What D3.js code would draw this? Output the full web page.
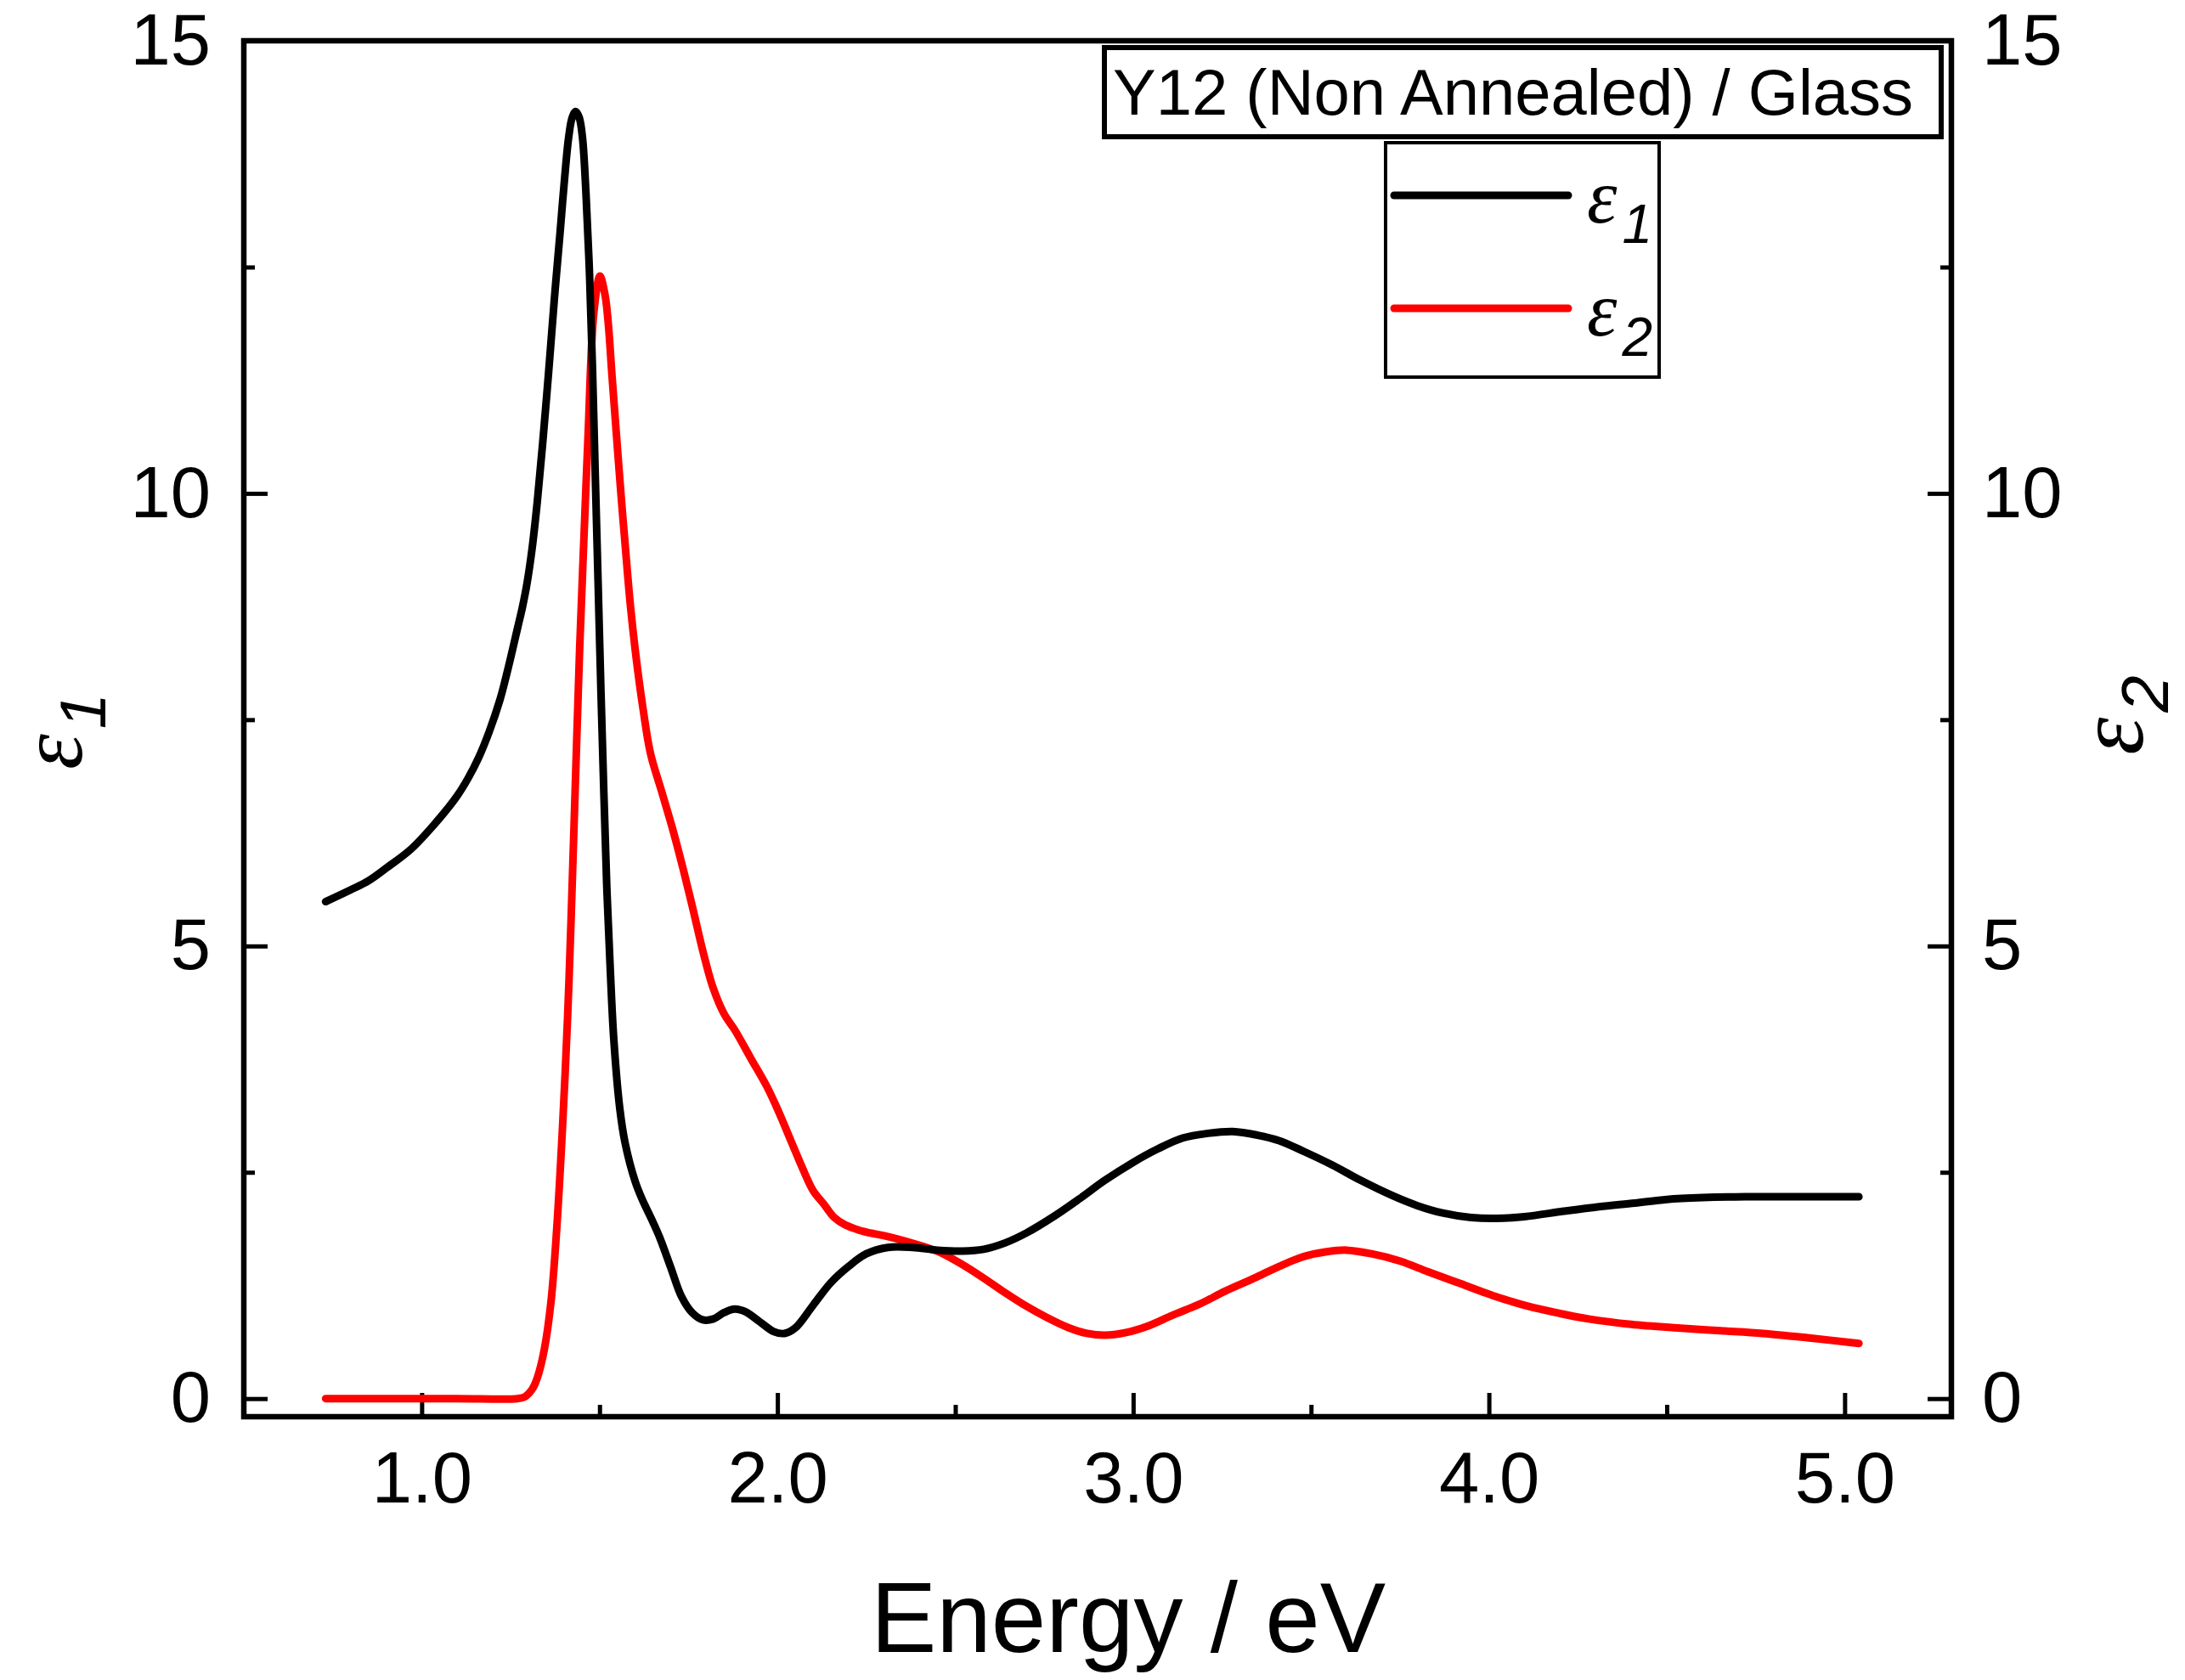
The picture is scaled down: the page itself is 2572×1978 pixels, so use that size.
<!DOCTYPE html>
<html>
<head>
<meta charset="utf-8">
<script src="https://cdn.jsdelivr.net/npm/d3@7"></script>
<style>
  html, body { margin: 0; padding: 0; background: #fff; }
  svg { display: block; }
</style>
</head>
<body>
<script>
// ---- data ----
const eps1Energy = [0.73,0.80,0.85,0.90,0.97,1.05,1.10,1.13,1.16,1.19,1.22,1.24,1.27,1.283,1.295,1.31,1.325,1.34,1.357,1.373,1.389,1.40,1.413,1.423,1.433,1.443,1.452,1.462,1.472,1.48,1.488,1.496,1.504,1.512,1.52,1.53,1.54,1.557,1.572,1.60,1.62,1.65,1.67,1.70,1.73,1.76,1.79,1.82,1.85,1.88,1.91,1.95,1.99,2.02,2.05,2.10,2.15,2.20,2.25,2.31,2.38,2.45,2.52,2.58,2.64,2.70,2.78,2.85,2.92,3.00,3.07,3.14,3.21,3.28,3.35,3.41,3.48,3.56,3.64,3.73,3.80,3.87,3.95,4.02,4.10,4.21,4.31,4.41,4.50,4.60,4.72,4.85,4.95,5.04];
const eps1Values = [5.49,5.62,5.72,5.86,6.07,6.41,6.66,6.85,7.08,7.37,7.72,8.02,8.52,8.74,8.98,9.38,9.91,10.55,11.35,12.15,12.88,13.40,13.93,14.15,14.22,14.15,13.93,13.30,12.40,11.40,10.19,9.00,7.80,6.70,5.69,4.75,3.97,3.20,2.82,2.40,2.20,1.95,1.77,1.45,1.13,0.95,0.87,0.88,0.95,0.99,0.96,0.85,0.74,0.72,0.78,1.03,1.28,1.46,1.60,1.67,1.67,1.64,1.63,1.65,1.72,1.83,2.02,2.21,2.41,2.61,2.76,2.88,2.93,2.95,2.91,2.85,2.73,2.58,2.41,2.24,2.13,2.05,2.00,1.99,2.01,2.07,2.12,2.16,2.20,2.22,2.23,2.23,2.23,2.23];

const eps2Energy = [0.73,0.90,1.10,1.27,1.29,1.31,1.325,1.345,1.364,1.38,1.396,1.41,1.42,1.432,1.444,1.456,1.468,1.484,1.501,1.515,1.524,1.535,1.547,1.56,1.572,1.587,1.603,1.623,1.643,1.675,1.707,1.735,1.763,1.79,1.819,1.85,1.882,1.925,1.97,2.00,2.041,2.07,2.10,2.13,2.16,2.19,2.23,2.26,2.30,2.36,2.41,2.46,2.52,2.58,2.64,2.70,2.76,2.82,2.87,2.92,2.98,3.04,3.11,3.19,3.26,3.34,3.41,3.48,3.54,3.60,3.67,3.75,3.83,3.92,4.01,4.11,4.20,4.28,4.40,4.53,4.65,4.77,4.90,5.04];
const eps2Values = [0,0,0,0,0.02,0.10,0.23,0.55,1.09,1.90,3.01,4.20,5.30,6.80,8.28,9.50,10.67,12.00,12.40,12.20,11.90,11.30,10.67,10.00,9.43,8.75,8.18,7.60,7.13,6.70,6.27,5.85,5.40,4.95,4.54,4.25,4.06,3.76,3.45,3.20,2.82,2.55,2.30,2.15,2.00,1.92,1.86,1.83,1.80,1.74,1.68,1.61,1.48,1.33,1.17,1.02,0.89,0.78,0.72,0.70,0.73,0.80,0.92,1.05,1.19,1.33,1.46,1.57,1.62,1.64,1.60,1.52,1.40,1.27,1.14,1.02,0.94,0.88,0.82,0.78,0.75,0.72,0.67,0.61];

const xMajorTicks = [1.0, 2.0, 3.0, 4.0, 5.0];
const xMinorTicks = [1.5, 2.5, 3.5, 4.5];
const yMajorTicks = [0, 5, 10, 15];
const yMinorTicks = [2.5, 7.5, 12.5];
const xDomain = [0.5, 5.3];
const yDomain = [-0.2, 15];
const titleText = "Y12 (Non Annealed) / Glass";
const xTitle = "Energy / eV";

// ---- drawing ----
const W = 2572, H = 1978;
const L = 287, R = 2297, T = 48, B = 1668;
const svg = d3.select("body").append("svg").attr("width", W).attr("height", H);

const x = d3.scaleLinear().domain(xDomain).range([L, R]);
const y = d3.scaleLinear().domain(yDomain).range([B, T]);

const sans = "'Liberation Sans', Arial, sans-serif";
const serif = "'Liberation Serif', 'Times New Roman', serif";

function styleAxis(g, fs) {
  g.select(".domain").remove();
  g.selectAll(".tick line").attr("stroke", "#000").attr("stroke-width", 5);
  g.selectAll(".tick text").attr("fill", "#000").attr("font-family", sans).attr("font-size", fs);
}

// bottom axis
svg.append("g").attr("transform", `translate(0,${B})`)
  .call(d3.axisBottom(x).tickValues(xMajorTicks).tickSize(-28).tickPadding(41).tickFormat(d3.format(".1f")))
  .call(g => styleAxis(g, 85));
svg.append("g").attr("transform", `translate(0,${B})`)
  .call(d3.axisBottom(x).tickValues(xMinorTicks).tickSize(-14).tickFormat(""))
  .call(g => styleAxis(g, 85));

// left axis
svg.append("g").attr("transform", `translate(${L},0)`)
  .call(d3.axisLeft(y).tickValues(yMajorTicks).tickSize(-28).tickPadding(39).tickFormat(d3.format("d")))
  .call(g => styleAxis(g, 85));
svg.append("g").attr("transform", `translate(${L},0)`)
  .call(d3.axisLeft(y).tickValues(yMinorTicks).tickSize(-13).tickFormat(""))
  .call(g => styleAxis(g, 85));

// right axis
svg.append("g").attr("transform", `translate(${R},0)`)
  .call(d3.axisRight(y).tickValues(yMajorTicks).tickSize(-28).tickPadding(36).tickFormat(d3.format("d")))
  .call(g => styleAxis(g, 85));
svg.append("g").attr("transform", `translate(${R},0)`)
  .call(d3.axisRight(y).tickValues(yMinorTicks).tickSize(-13).tickFormat(""))
  .call(g => styleAxis(g, 85));

// curves
const line = d3.line().x(d => x(d[0])).y(d => y(d[1])).curve(d3.curveCatmullRom.alpha(0.5));
const eps1 = eps1Energy.map((e, i) => [e, eps1Values[i]]);
const eps2 = eps2Energy.map((e, i) => [e, eps2Values[i]]);

svg.append("path").datum(eps2).attr("d", line)
  .attr("fill", "none").attr("stroke", "#ff0000").attr("stroke-width", 9)
  .attr("stroke-linecap", "round").attr("stroke-linejoin", "round");
svg.append("path").datum(eps1).attr("d", line)
  .attr("fill", "none").attr("stroke", "#000").attr("stroke-width", 9)
  .attr("stroke-linecap", "round").attr("stroke-linejoin", "round");

// frame
svg.append("rect").attr("x", L).attr("y", T).attr("width", R - L).attr("height", B - T)
  .attr("fill", "none").attr("stroke", "#000").attr("stroke-width", 6.5);

// title box
svg.append("rect").attr("x", 1300).attr("y", 56).attr("width", 985).attr("height", 105)
  .attr("fill", "#fff").attr("stroke", "#000").attr("stroke-width", 6);
svg.append("text").attr("x", 1310).attr("y", 135)
  .attr("font-family", sans).attr("font-size", 76).attr("fill", "#000").text(titleText);

// legend box
svg.append("rect").attr("x", 1631).attr("y", 168).attr("width", 322).attr("height", 276)
  .attr("fill", "#fff").attr("stroke", "#000").attr("stroke-width", 4);
const legendItems = [
  { sub: "1", color: "#000", ly: 230 },
  { sub: "2", color: "#ff0000", ly: 363 }
];
legendItems.forEach(it => {
  svg.append("line").attr("x1", 1641).attr("x2", 1846).attr("y1", it.ly).attr("y2", it.ly)
    .attr("stroke", it.color).attr("stroke-width", 9).attr("stroke-linecap", "round");
  const t = svg.append("text").attr("x", 1868).attr("y", it.ly + 32).attr("fill", "#000");
  t.append("tspan").attr("font-family", serif).attr("font-style", "italic").attr("font-size", 90).text("ε");
  t.append("tspan").attr("font-family", sans).attr("font-style", "italic").attr("font-size", 64)
    .attr("dx", 6).attr("dy", 24).text(it.sub);
});

// axis titles
svg.append("text").attr("x", 1328).attr("y", 1945).attr("text-anchor", "middle")
  .attr("font-family", sans).attr("font-size", 116).attr("fill", "#000").text(xTitle);

function yTitle(tx, ty, sub, fsE, fsS, dy) {
  const t = svg.append("text").attr("transform", `translate(${tx},${ty}) rotate(-90)`)
    .attr("text-anchor", "middle").attr("fill", "#000");
  t.append("tspan").attr("font-family", serif).attr("font-style", "italic").attr("font-size", fsE).text("ε");
  t.append("tspan").attr("font-family", sans).attr("font-style", "italic").attr("font-size", fsS)
    .attr("dx", 6).attr("dy", dy).text(sub);
}
yTitle(96, 861, "1", 106, 76, 28);
yTitle(2522, 842, "2", 112, 78, 30);
</script>
</body>
</html>
